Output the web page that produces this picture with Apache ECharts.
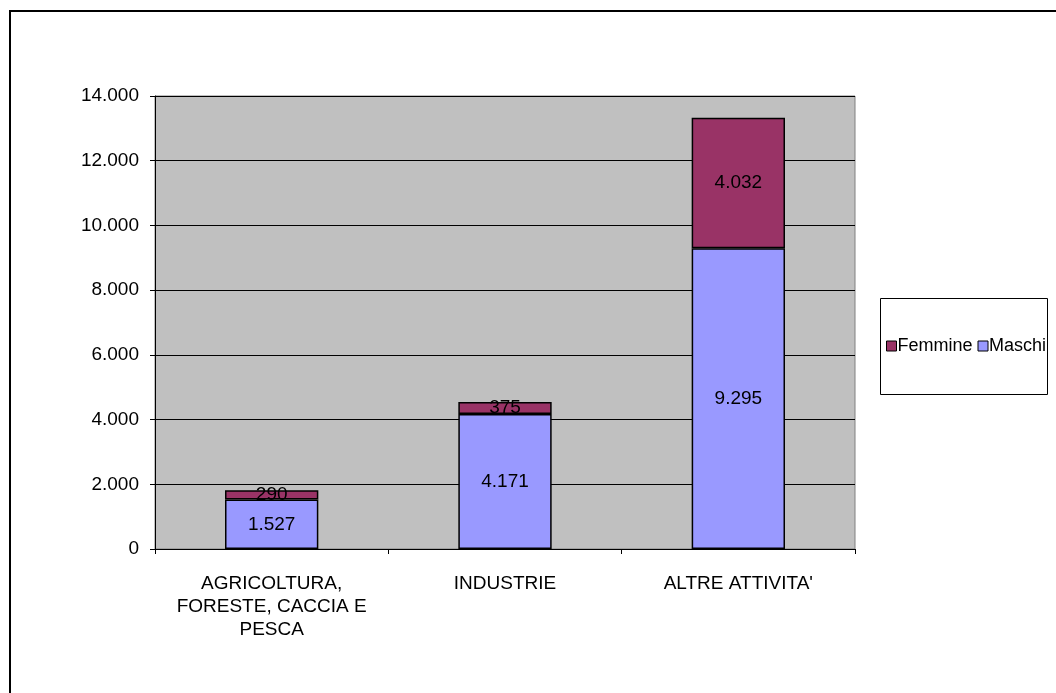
<!DOCTYPE html>
<html><head><meta charset="utf-8">
<script src="https://cdn.jsdelivr.net/npm/echarts@6/dist/echarts.min.js"></script>
<style>html,body{margin:0;padding:0;background:#fff}#c{width:1056px;height:693px}</style>
</head><body><div id="c"></div>
<script>
const categories = ["AGRICOLTURA,\nFORESTE, CACCIA E\nPESCA", "INDUSTRIE", "ALTRE ATTIVITA'"];
const maschi = [1527, 4171, 9295];
const femmine = [290, 375, 4032];
const yTicks = { min: 0, max: 14000, interval: 2000 };

function fmt(v){ return String(v).replace(/\B(?=(\d{3})+(?!\d))/g, '.'); }

const chart = echarts.init(document.getElementById('c'), null, {renderer:'canvas'});
const font = 'Liberation Sans, Arial, sans-serif';
chart.setOption({
  animation: false,
  backgroundColor: '#fff',
  textStyle: { fontFamily: font },
  graphic: [
    { type: 'rect', shape: { x: 10, y: 11, width: 1100, height: 740 }, style: { fill: 'none', stroke: '#000', lineWidth: 2 }, z: -1 },
    { type: 'rect', shape: { x: 880.5, y: 298.5, width: 167, height: 96 }, style: { fill: '#fff', stroke: '#000', lineWidth: 1 }, z: 0 }
  ],
  legend: {
    data: ['Femmine', 'Maschi'],
    left: 886, top: 337,
    icon: 'rect', itemWidth: 10, itemHeight: 10, itemGap: 5,
    padding: 0,
    textStyle: { fontFamily: font, fontSize: 18, color: '#000', padding: [0,0,0,-4] },
    itemStyle: { borderColor: '#000', borderWidth: 1 },
    z: 5
  },
  grid: { left: 155, right: 201, top: 96, bottom: 144, show: true, backgroundColor: '#C0C0C0', borderColor: '#808080', borderWidth: 1 },
  xAxis: {
    type: 'category', data: categories,
    axisLine: { lineStyle: { color: '#000', width: 1 } },
    axisTick: { show: true, length: 5, lineStyle: { color: '#000' } },
    axisLabel: { fontFamily: font, fontSize: 19, color: '#000', lineHeight: 23, margin: 23, interval: 0 }
  },
  yAxis: {
    type: 'value', min: yTicks.min, max: yTicks.max, interval: yTicks.interval,
    axisLine: { show: true, lineStyle: { color: '#000' } },
    axisTick: { show: true, length: 5, lineStyle: { color: '#000' } },
    axisLabel: { fontFamily: font, fontSize: 19, color: '#000', margin: 16, formatter: v => fmt(v) },
    splitLine: { lineStyle: { color: '#000', width: 1 } }
  },
  series: [
    { name: 'Maschi', type: 'bar', stack: 't', data: maschi, barWidth: '40%',
      itemStyle: { color: '#9999FF', borderColor: '#000', borderWidth: 1.5 },
      label: { show: true, position: 'inside', fontFamily: font, fontSize: 19, color: '#000', formatter: p => fmt(p.value) } },
    { name: 'Femmine', type: 'bar', stack: 't', data: femmine, barWidth: '40%',
      itemStyle: { color: '#993366', borderColor: '#000', borderWidth: 1.5 },
      label: { show: true, position: 'inside', fontFamily: font, fontSize: 19, color: '#000', formatter: p => fmt(p.value) } }
  ]
});
</script></body></html>
